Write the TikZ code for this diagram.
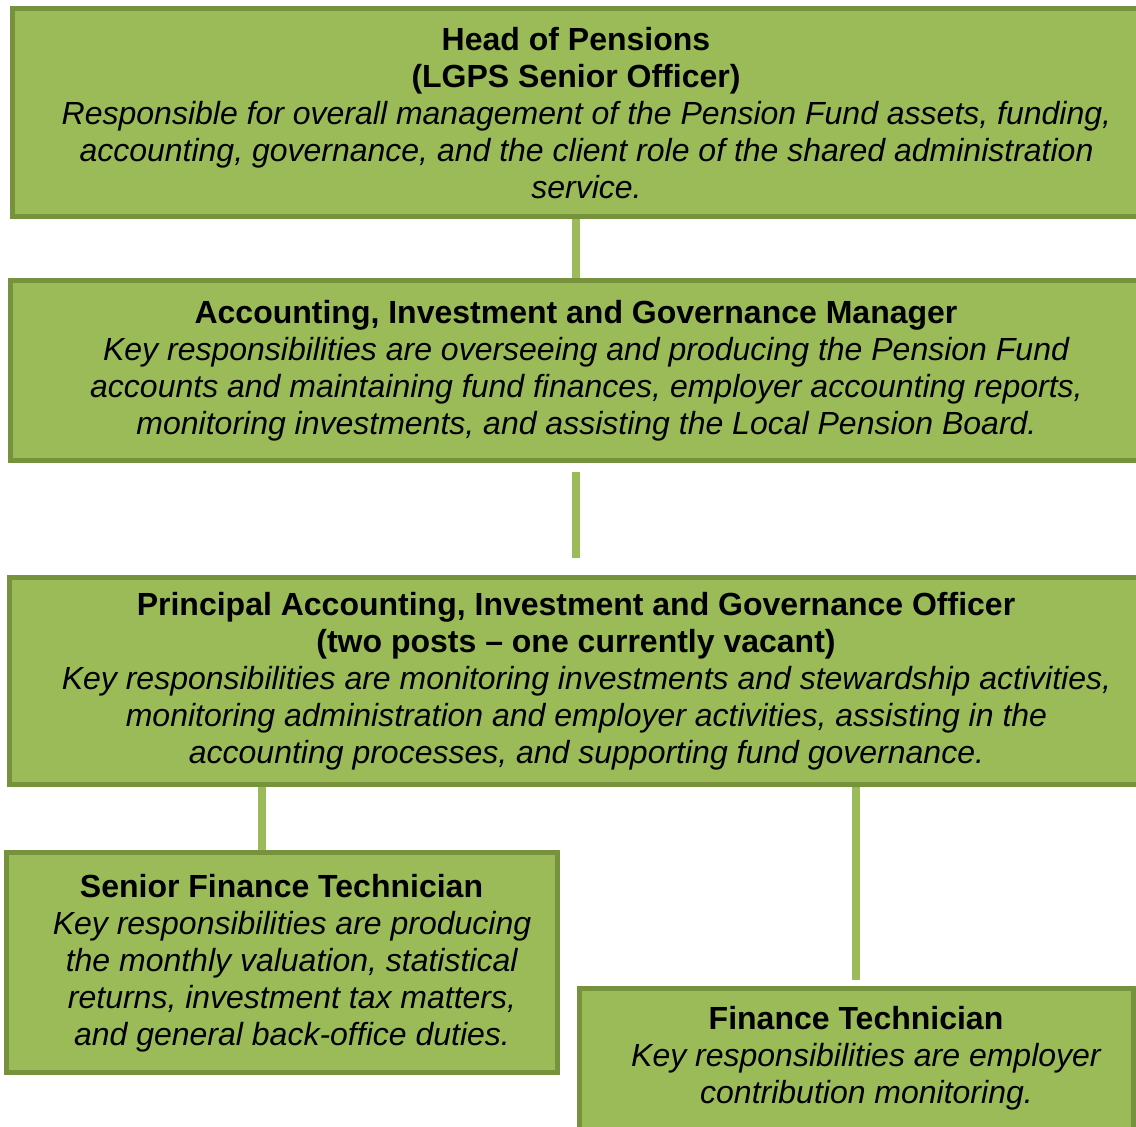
\documentclass[tikz,border=0pt]{standalone}
\usepackage{fontspec}
\setmainfont{Liberation Sans}
\usetikzlibrary{positioning}
\definecolor{olivefill}{RGB}{155,187,89}
\definecolor{olivedark}{RGB}{118,146,60}

\newcommand{\desc}[1]{\hspace*{10.5pt}\textit{#1}}

\tikzset{
  card/.style={draw=olivedark, fill=olivefill, line width=2.5pt, align=center, inner sep=0pt},
  link/.style={draw=olivefill, line width=4pt},
}

\begin{document}
\begin{tikzpicture}[x=0.5pt, y=-0.5pt, font=\fontsize{16pt}{18.5pt}\selectfont]
    \useasboundingbox (0,0) rectangle (1136,1127);

    % Boxes
    \node[card, minimum width=564pt, minimum height=104pt] (head) at (576,113)
        {\textbf{Head of Pensions}\\
         \textbf{(LGPS Senior Officer)}\\
         \desc{Responsible for overall management of the Pension Fund assets, funding,}\\
         \desc{accounting, governance, and the client role of the shared administration}\\
         \desc{service.}};

    \node[card, minimum width=566pt, minimum height=90pt] (acc) at (576,371)
        {\textbf{Accounting, Investment and Governance Manager}\\
         \desc{Key responsibilities are overseeing and producing the Pension Fund}\\
         \desc{accounts and maintaining fund finances, employer accounting reports,}\\
         \desc{monitoring investments, and assisting the Local Pension Board.}};

    \node[card, minimum width=567pt, minimum height=103.5pt] (prin) at (576,681)
        {\textbf{Principal Accounting, Investment and Governance Officer}\\
         \textbf{(two posts -- one currently vacant)}\\
         \desc{Key responsibilities are monitoring investments and stewardship activities,}\\
         \desc{monitoring administration and employer activities, assisting in the}\\
         \desc{accounting processes, and supporting fund governance.}};

    \node[card, minimum width=275.5pt, minimum height=110pt] (senior) at (281.5,963)
        {\textbf{Senior Finance Technician}\\
         \desc{Key responsibilities are producing}\\
         \desc{the monthly valuation, statistical}\\
         \desc{returns, investment tax matters,}\\
         \desc{and general back-office duties.}};

    \node[card, anchor=north, minimum width=277pt, inner ysep=9pt] (fin) at (856,986)
        {\textbf{Finance Technician}\\
         \desc{Key responsibilities are employer}\\
         \desc{contribution monitoring.}\\
         \mbox{}};

    % Connectors
    \draw[link] (head.south) -- (acc.north);
    \draw[link, shorten <=4.5pt, shorten >=8.5pt] (acc.south) -- (prin.north);
    \coordinate (split) at ([xshift=-9.75pt]senior.north);
    \draw[link] (split |- prin.south) -- (split);
    \draw[link, shorten >=3pt] (fin.north |- prin.south) -- (fin.north);
\end{tikzpicture}
\end{document}
